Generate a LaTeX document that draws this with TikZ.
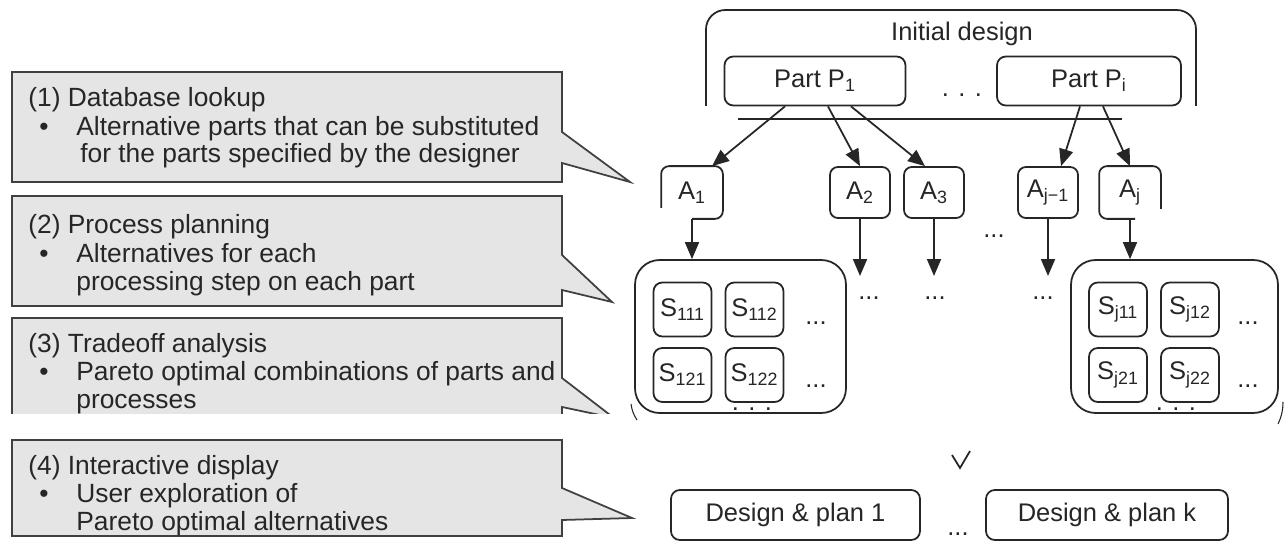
\documentclass[tikz,border=0pt]{standalone}
\usepackage{fontspec}
\setmainfont{Liberation Sans}
\usetikzlibrary{arrows.meta,calc}

\begin{document}
\begin{tikzpicture}[x=0.02cm, y=-0.02cm,
  every node/.style={inner sep=0pt, text=black!85, font=\fontsize{14.5}{17}\selectfont},
  line/.style={draw=black!85, line width=1pt},
  callbox/.style={draw=black!75, fill=black!10, line width=1pt, line join=miter},
  ctext/.style={anchor=base west, font=\fontsize{15}{18}\selectfont},
  bul/.style={anchor=base, font=\fontsize{15}{18}\selectfont},
  pbox/.style={line, rounded corners=5pt, minimum height=0.98cm},
  abox/.style={line, rounded corners=4.5pt, minimum width=1.2cm, minimum height=1.02cm},
  sbox/.style={line, rounded corners=5pt, minimum width=1.16cm, minimum height=1.08cm},
  group/.style={line, rounded corners=14pt, minimum height=3.06cm},
  dbox/.style={line, rounded corners=5pt, minimum height=1.0cm},
  dots/.style={anchor=base},
  arr/.style={line, -{Triangle[length=0.34cm,width=0.28cm]}},
]
\useasboundingbox (0,0) rectangle (1285,544);
\fill[white] (0,0) rectangle (1285,544);

% ---------- callouts on the left ----------
\draw[callbox] (12,72) -- (562,72) -- (562,132) -- (630,182) -- (562,163)
  -- (562,182) -- (12,182) -- cycle;
\node[ctext] (c1h) at (28,107) {(1) Database lookup};
\node[bul]   (c1b) at (44,135) {\textbullet};
\node[ctext] (c1l) at (76,135) {Alternative parts that can be substituted};
\node[ctext] (c1m) at (80,162) {for the parts specified by the designer};

\draw[callbox] (12,196) -- (562,196) -- (562,255) -- (612,302) -- (562,290)
  -- (562,306) -- (12,306) -- cycle;
\node[ctext] (c2h) at (28,234) {(2) Process planning};
\node[bul]   (c2b) at (44,262) {\textbullet};
\node[ctext] (c2l) at (76,262) {Alternatives for each};
\node[ctext] (c2m) at (76,290) {processing step on each part};

\begin{scope}
  \clip (0,0) rectangle (1285,413);
  \draw[callbox] (12,318) -- (562,318) -- (562,378) -- (614,418) -- (562,407)
    -- (562,440) -- (12,440) -- cycle;
  \node[ctext] (c3h) at (28,352) {(3) Tradeoff analysis};
  \node[bul]   (c3b) at (44,380) {\textbullet};
  \node[ctext] (c3l) at (76,380) {Pareto optimal combinations of parts and};
  \node[ctext] (c3m) at (76,408) {processes};
\end{scope}

\draw[callbox] (12,440) -- (562,440) -- (562,488) -- (632,518) -- (562,520)
  -- (562,536) -- (12,536) -- cycle;
\node[ctext] (c4h) at (28,474) {(4) Interactive display};
\node[bul]   (c4b) at (44,502) {\textbullet};
\node[ctext] (c4l) at (76,502) {User exploration of};
\node[ctext] (c4m) at (76,530) {Pareto optimal alternatives};

% ---------- initial design ----------
\draw[line, rounded corners=11pt] (706,106) -- (706,10) -- (1196,10) -- (1196,106);
\node (init) at (962,34) {Initial design};
\node[pbox, minimum width=3.62cm] (p1) at (815,81) {Part P\textsubscript{1}};
\node[pbox, minimum width=3.68cm] (pi) at (1089,81) {Part P\textsubscript{i}};
\node[dots] (pdots) at (962,97) {. . .};
\draw[line] (738,119) -- (1122,119);

% ---------- alternative parts ----------
\node[abox, draw=none] (a1) at (692,192.5) {A\textsubscript{1}};
\node[abox] (a2) at (860,192.5) {A\textsubscript{2}};
\node[abox] (a3) at (934,192.5) {A\textsubscript{3}};
\node[abox] (aj1) at (1048,192.5) {A\textsubscript{j−1}};
\node[abox, draw=none] (aj) at (1130,192.5) {A\textsubscript{j}};
\draw[line, rounded corners=4.5pt] ([yshift=0.22cm]a1.south west) -- (a1.north west)
  -- (a1.north east) -- (a1.south east) -- (a1.south);
\draw[line, rounded corners=4.5pt] ([xshift=0.1cm]aj.south) -- (aj.south west)
  -- (aj.north west) -- (aj.north east) -- ([yshift=0.2cm]aj.south east);
\node[dots] (adots) at (994,237) {...};

\draw[arr] ([xshift=-0.6cm]p1.south) -- ([xshift=0.4cm]a1.north);
\draw[arr] ([xshift=0.26cm]p1.south) -- (a2.north);
\draw[arr] ([xshift=0.72cm]p1.south) -- ([xshift=-0.18cm]a3.north);
\draw[arr] ([xshift=-0.18cm]pi.south) -- ([xshift=0.26cm]aj1.north);
\draw[arr] ([xshift=0.28cm]pi.south) -- (aj.north);

% ---------- process plan groups ----------
\node[group, minimum width=4.22cm] (g1) at (740.5,336.5) {};
\node[group, minimum width=4.14cm] (gj) at (1174.5,336.5) {};

\node[sbox] (s111) at (682.5,309.5) {S\textsubscript{111}};
\node[sbox] (s112) at (754.5,309.5) {S\textsubscript{112}};
\node[sbox] (s121) at (682.5,375) {S\textsubscript{121}};
\node[sbox] (s122) at (754.5,375) {S\textsubscript{122}};
\node[dots] (g1d1) at (816,324) {...};
\node[dots] (g1d2) at (816,387) {...};
\node[dots] (g1d3) at (752,410) {. . .};

\node[sbox] (sj11) at (1118,309.5) {S\textsubscript{j11}};
\node[sbox] (sj12) at (1190,309.5) {S\textsubscript{j12}};
\node[sbox] (sj21) at (1118,375) {S\textsubscript{j21}};
\node[sbox] (sj22) at (1190,375) {S\textsubscript{j22}};
\node[dots] (gjd1) at (1248,324) {...};
\node[dots] (gjd2) at (1248,387) {...};
\node[dots] (gjd3) at (1176,410) {. . .};

\coordinate (e2) at (860,276);
\coordinate (e3) at (934,276);
\coordinate (ej1) at (1048,276);
\draw[arr] (a1.south) -- (a1.south |- g1.north);
\draw[arr] (a2.south) -- (e2);
\draw[arr] (a3.south) -- (e3);
\draw[arr] (aj1.south) -- (ej1);
\draw[arr] (aj.south) -- (aj.south |- gj.north);

\node[dots] (md1) at (869,299) {...};
\node[dots] (md2) at (935,299) {...};
\node[dots] (md3) at (1043,299) {...};

% remains of the outer frame round both groups
\draw[line, line width=0.6pt] (631,404) to[bend right=12] (637,420);
\draw[line, line width=0.6pt] (1283,402) to[bend left=12] (1278,424);
\coordinate (vt) at (960,468);
\draw[line, line width=1pt] (952,455) -- (vt) -- (970,451);

% ---------- resulting designs ----------
\node[dbox, minimum width=4.98cm] (d1) at (795.5,515) {Design \& plan 1};
\node[dbox, minimum width=4.84cm] (dk) at (1107,515) {Design \& plan k};
\node[dots] (ddots) at (958,535) {...};
\end{tikzpicture}
\end{document}
